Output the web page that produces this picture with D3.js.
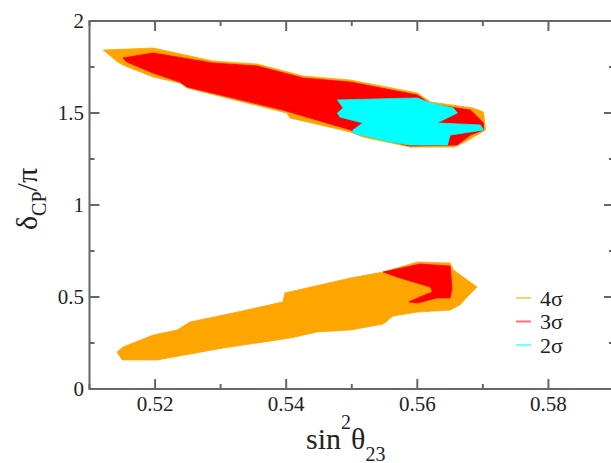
<!DOCTYPE html>
<html>
<head>
<meta charset="utf-8">
<script src="https://cdn.jsdelivr.net/npm/d3@7"></script>
<style>
  body { margin: 0; background: #fff; }
</style>
</head>
<body>
<script>
"use strict";

// contour regions, [sin^2 theta23, deltaCP/pi]
const upper4s = [[0.5121,1.842],[0.5197,1.853],[0.5288,1.783],[0.5356,1.766],[0.5426,1.701],[0.5498,1.679],
  [0.5600,1.609],[0.5620,1.560],[0.5685,1.527],[0.5701,1.505],[0.5704,1.408],[0.5691,1.380],[0.5670,1.337],
  [0.5655,1.315],[0.5589,1.315],[0.5517,1.370],[0.5498,1.397],[0.5406,1.473],[0.5401,1.500],[0.5249,1.636],
  [0.5238,1.663],[0.5197,1.696],[0.5151,1.761],[0.5143,1.777]];
const upper3s = [[0.5151,1.799],[0.5197,1.826],[0.5288,1.772],[0.5356,1.755],[0.5426,1.690],[0.5498,1.668],
  [0.5600,1.598],[0.5620,1.549],[0.5681,1.516],[0.5701,1.446],[0.5701,1.408],[0.5681,1.380],[0.5661,1.326],
  [0.5589,1.321],[0.5517,1.380],[0.5498,1.408],[0.5395,1.516],[0.5249,1.641],[0.5238,1.668],[0.5197,1.717],
  [0.5157,1.777]];
const upper2s = [[0.5478,1.571],[0.5600,1.582],[0.5620,1.554],[0.5655,1.527],[0.5661,1.500],[0.5630,1.446],
  [0.5696,1.435],[0.5701,1.408],[0.5650,1.380],[0.5646,1.326],[0.5589,1.326],[0.5559,1.342],[0.5502,1.391],
  [0.5502,1.408],[0.5517,1.446],[0.5482,1.478],[0.5478,1.500],[0.5487,1.527]];
const lower4s = [[0.5142,0.201],[0.5151,0.228],[0.5197,0.293],[0.5234,0.321],[0.5253,0.364],[0.5319,0.413],
  [0.5395,0.473],[0.5398,0.522],[0.5498,0.603],[0.5548,0.636],[0.5600,0.690],[0.5650,0.685],[0.5655,0.647],
  [0.5691,0.554],[0.5676,0.500],[0.5665,0.457],[0.5650,0.429],[0.5600,0.418],[0.5563,0.397],[0.5548,0.353],
  [0.5498,0.321],[0.5447,0.310],[0.5406,0.277],[0.5304,0.223],[0.5203,0.158],[0.5150,0.158]];
const lower3s = [[0.5548,0.636],[0.5604,0.679],[0.5650,0.668],[0.5653,0.549],[0.5650,0.495],[0.5630,0.495],
  [0.5600,0.467],[0.5587,0.473],[0.5604,0.500],[0.5623,0.527],[0.5620,0.554],[0.5594,0.582],[0.5569,0.609]];

const xTicks = [0.52, 0.54, 0.56, 0.58];
const xMinor = [0.51, 0.53, 0.55, 0.57, 0.59];
const yTicks = [0, 0.5, 1, 1.5, 2];
const yMinor = [0.25, 0.75, 1.25, 1.75];
const legendLabels = ["4σ", "3σ", "2σ"];
const legendColors = ["#ffa500", "#ff0000", "#00ffff"];

const W = 611, H = 463;
const serif = "Liberation Serif";
const ink = "#222";
const svg = d3.select('body').append('svg')
    .attr('width', W)
    .attr('height', H);

const x = d3.scaleLinear().domain([0.51, 0.59]).range([89.5, 614]);
const y = d3.scaleLinear().domain([0, 2]).range([389, 21]);

const line = d3.line()
    .x(d => x(d[0]))
    .y(d => y(d[1]))
    .curve(d3.curveLinearClosed);

// regions, widest first
const regions = [[upper4s, 0], [lower4s, 0], [upper3s, 1], [lower3s, 1], [upper2s, 2]];
regions.forEach(r => {
    svg.append('path')
        .attr('d', line(r[0]))
        .attr('fill', legendColors[r[1]])
        .attr('stroke', legendColors[r[1]])
        .attr('stroke-width', 0.8)
        .attr('stroke-linejoin', 'round');
});

// frame with inward ticks on all sides
const axisColor = "#666";
const frame = svg.append('g').attr('stroke', axisColor).attr('stroke-width', 2).attr('fill', 'none');
frame.append('rect')
    .attr('x', x(0.51)).attr('y', y(2))
    .attr('width', x(0.59) - x(0.51)).attr('height', y(0) - y(2));

function xTickMarks(vals, len) {
    vals.forEach(v => {
        frame.append('line').attr('x1', x(v)).attr('x2', x(v)).attr('y1', y(0)).attr('y2', y(0) - len);
        frame.append('line').attr('x1', x(v)).attr('x2', x(v)).attr('y1', y(2)).attr('y2', y(2) + len);
    });
}
function yTickMarks(vals, len) {
    vals.forEach(v => {
        frame.append('line').attr('y1', y(v)).attr('y2', y(v)).attr('x1', x(0.51)).attr('x2', x(0.51) + len);
        frame.append('line').attr('y1', y(v)).attr('y2', y(v)).attr('x1', x(0.59)).attr('x2', x(0.59) - len);
    });
}
xTickMarks(xTicks, 10);
xTickMarks(xMinor, 5);
yTickMarks(yTicks, 10);
yTickMarks(yMinor, 5);

// tick labels
svg.append('g').selectAll('text').data(xTicks).join('text')
    .attr('x', d => x(d))
    .attr('y', 411)
    .attr('text-anchor', 'middle')
    .attr('fill', ink)
    .style('font-family', serif)
    .style('font-size', '21px')
    .text(d => d3.format('.2f')(d));

svg.append('g').selectAll('text').data(yTicks).join('text')
    .attr('x', 84)
    .attr('y', d => y(d))
    .attr('dy', '0.35em')
    .attr('text-anchor', 'end')
    .attr('fill', ink)
    .style('font-family', serif)
    .style('font-size', '21px')
    .text(d => d);

// axis titles
const xt = svg.append('text')
    .attr('x', 306)
    .attr('y', 449)
    .attr('fill', ink)
    .style('font-family', serif)
    .style('font-size', '30px');
xt.append('tspan').text('sin');
xt.append('tspan').attr('dy', -20).style('font-size', '20px').text('2');
xt.append('tspan').attr('dy', 20).text('θ');
xt.append('tspan').attr('dy', 12).style('font-size', '20px').text('23');

const yt = svg.append('text')
    .attr('transform', 'translate(37,199) rotate(-90)')
    .attr('text-anchor', 'middle')
    .attr('fill', ink)
    .style('font-family', serif)
    .style('font-size', '30px');
yt.append('tspan').text('δ');
yt.append('tspan').attr('dy', 9).style('font-size', '20px').text('CP');
yt.append('tspan').attr('dy', -9).text('/π');

// legend
const legend = svg.append('g');
legendLabels.forEach((lab, i) => {
    const ly = 298 + i * 23.5;
    legend.append('line')
        .attr('x1', 516).attr('x2', 531).attr('y1', ly).attr('y2', ly)
        .attr('stroke', legendColors[i])
        .attr('stroke-width', 2)
        .attr('opacity', 0.55);
    legend.append('text')
        .attr('x', 540)
        .attr('y', ly)
        .attr('dy', '0.35em')
        .attr('fill', ink)
        .style('font-family', serif)
        .style('font-size', '22px')
        .text(lab);
});
</script>
</body>
</html>
